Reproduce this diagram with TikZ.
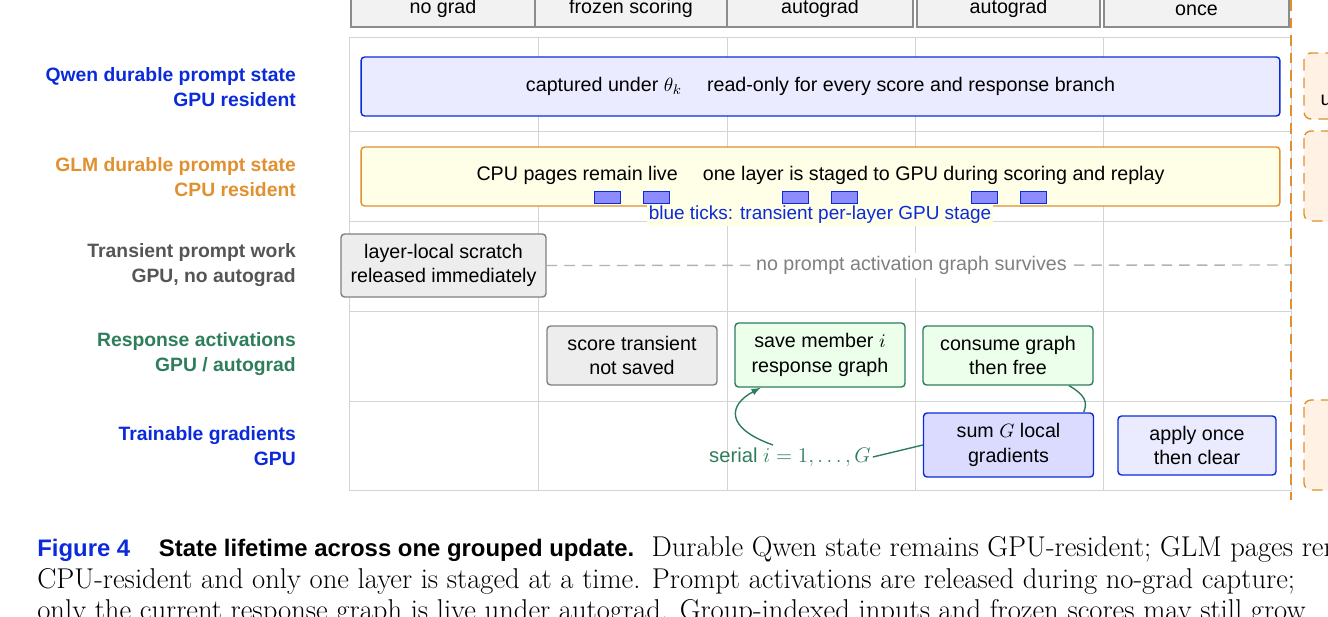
\documentclass[tikz,border=0pt]{standalone}
\usepackage{fontspec}
\setsansfont{Liberation Sans}
\usepackage{amsmath}
\usepackage{tikz}
\usetikzlibrary{positioning}
\definecolor{qblue}{HTML}{0B2BDB}
\definecolor{gorange}{HTML}{E0902F}
\definecolor{rgreen}{HTML}{2E7D5B}
\definecolor{tgray}{HTML}{555555}
\definecolor{gridgray}{HTML}{D4D4D4}
\begin{document}
\begin{tikzpicture}
[x=0.02cm,y=-0.02cm,font=\sffamily\fontsize{11.2}{14}\selectfont,
 rowlabel/.style={anchor=east,align=right,font=\sffamily\bfseries\fontsize{11}{14}\selectfont},
 head/.style={draw=black!45,fill=black!5,thick,inner sep=0pt},
 bar/.style={draw,rounded corners=2pt,thick,inner sep=0pt,align=center},
 cell/.style={draw,rounded corners=2pt,thick,inner sep=0pt,align=center,minimum width=3.4cm,minimum height=1.18cm},
 grayc/.style={cell,draw=black!50,fill=black!7},
 greenc/.style={cell,draw=rgreen,fill=green!8},
 bluec/.style={cell,draw=qblue,fill=blue!14},
 tick/.style={draw=qblue,fill=blue!45,inner sep=0pt,minimum width=0.52cm,minimum height=0.24cm},
 side/.style={draw=gorange,fill=orange!10,thick,dashed,dash pattern=on 6pt off 4pt,rounded corners=4pt},
 captext/.style={anchor=base west,inner sep=0pt,font=\fontsize{16.3}{18}\selectfont}]
\useasboundingbox (0,0) rectangle (1328,616);
% header
\foreach \xa/\xb/\txt/\yt in {351/535/no grad/8,535/727/frozen scoring/8,727/913/autograd/8,917/1100/autograd/8,1104/1289/once/10}
  \draw[head] (\xa,-20) rectangle (\xb,27) node at ({(\xa+\xb)/2},\yt) {\txt};
% grid
\draw[gridgray] (349,37) rectangle (1291,490);
\foreach \x in {538,727,915,1103} \draw[gridgray] (\x,37) -- (\x,490);
\foreach \y in {131,221,311,401} \draw[gridgray] (349,\y) -- (1291,\y);
% right side
\draw[side] (1304,53) rectangle (1350,119);
\node at (1326,100) {u};
\draw[side] (1304,131) rectangle (1350,221);
\draw[side] (1304,400) rectangle (1350,490);
\draw[gorange,line width=1.3pt,dash pattern=on 6pt off 4pt] (1291,0) -- (1291,500);
% row labels
\node[rowlabel,text=qblue]   (lqwen) at (302,87)  {Qwen durable prompt state\\GPU resident};
\node[rowlabel,text=gorange] (lglm)  at (302,177) {GLM durable prompt state\\CPU resident};
\node[rowlabel,text=tgray]   (ltmp)  at (302,265) {Transient prompt work\\GPU, no autograd};
\node[rowlabel,text=rgreen]  (lresp) at (302,354) {Response activations\\GPU / autograd};
\node[rowlabel,text=qblue]   (lgrad) at (302,446) {Trainable gradients\\GPU};
% durable state
\node[bar,draw=qblue,fill=blue!8,minimum width=18.38cm,minimum height=1.18cm] (qwen) at (820.5,86.5)
  {captured under $\theta_k$\quad\ read-only for every score and response branch};
\node[bar,draw=gorange,fill=yellow!10,minimum width=18.38cm,minimum height=1.18cm] (glm) at (820.5,176.5) {};
\node at (820.5,175) {CPU pages remain live\quad\ one layer is staged to GPU during scoring and replay};
\foreach \x [count=\i] in {607,656,795,844,984,1033} \node[tick] (tick\i) at (\x,197) {};
\node[fill=yellow!10,text=qblue,inner sep=1pt,font=\sffamily\fontsize{10.8}{12}\selectfont] (ticklbl) at (820,215) {blue ticks: transient per-layer GPU stage};
% transient prompt work
\node[grayc,minimum width=4.1cm,minimum height=1.26cm] (scratch) at (443.5,265.5) {layer-local scratch\\released immediately};
\coordinate (dashend) at (1291,265);
\draw[black!30,thick,dash pattern=on 6pt off 4pt] (scratch.east) -- (dashend)
  node[pos=.49,fill=white,text=black!50,inner sep=2pt] {no prompt activation graph survives};
% response activations
\node[grayc] (score) at (632,355.5) {score transient\\not saved};
\node[greenc,minimum height=1.28cm] (save) at (820,355) {save member $i$\\response graph};
\node[greenc] (consume) at (1008,355.5) {consume graph\\then free};
% gradients
\node[bluec,minimum height=1.28cm] (sum) at (1008.5,445) {sum $G$ local\\gradients};
\node[cell,draw=qblue,fill=blue!8,minimum width=3.16cm] (apply) at (1197,445.5) {apply once\\then clear};
\node[text=rgreen,inner sep=1pt,font=\sffamily\fontsize{11.5}{14}\selectfont] (serial) at (790,457) {serial $\displaystyle i=1,\ldots,G$};
\coordinate (loopst) at (773,445);
\draw[rgreen,thick] (sum.west) -- (serial.east);
\draw[rgreen,thick,-latex] (loopst) .. controls (725,428) and (728,405) .. ([xshift=15]save.south west);
\draw[rgreen,thick] ([xshift=-14]consume.south east) .. controls (1085,395) and (1088,402) .. ([xshift=-6]sum.north east);
% caption
\node[captext] (cap1) at (37,556)
  {\textsf{\bfseries\fontsize{13.6}{18}\selectfont\color{qblue}Figure 4}\quad\textsf{\bfseries\fontsize{13.6}{18}\selectfont State lifetime across one grouped update.}\ \ Durable Qwen state remains GPU-resident; GLM pages remain};
\node[captext] (cap2) at (37,588)
  {CPU-resident and only one layer is staged at a time. Prompt activations are released during no-grad capture;};
\node[captext] (cap3) at (37,619)
  {only the current response graph is live under autograd. Group-indexed inputs and frozen scores may still grow};
\end{tikzpicture}
\end{document}
